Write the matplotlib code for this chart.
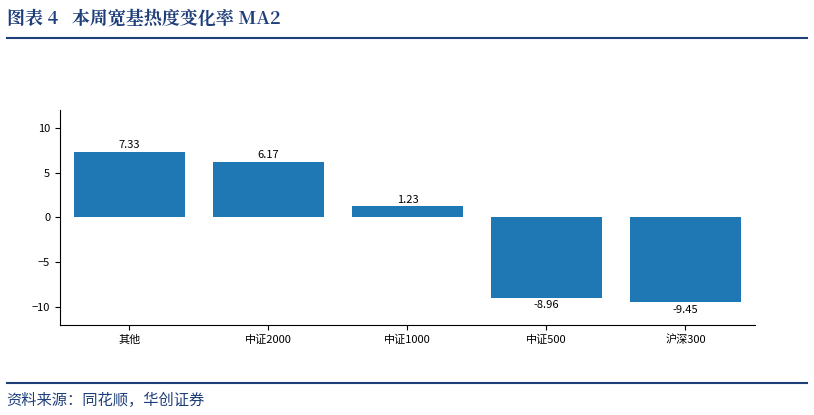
import matplotlib
matplotlib.use("Agg")
import matplotlib.pyplot as plt

plt.rcParams['font.family'] = ['Noto Sans CJK SC', 'DejaVu Sans']

categories = ["其他", "中证2000", "中证1000", "中证500", "沪深300"]
values = [7.33, 6.17, 1.23, -8.96, -9.45]
labels = ["7.33", "6.17", "1.23", "-8.96", "-9.45"]

fig = plt.figure(figsize=(8.14, 4.15), dpi=100)
navy = "#1f3f7a"
fig.text(0.008, 0.955, "图表 4   本周宽基热度变化率 MA2", fontsize=13, fontweight="bold",
         color=navy, va="center", family=['Noto Serif CJK SC', 'Noto Sans CJK SC', 'DejaVu Sans'])
fig.add_artist(plt.Line2D([0.008, 0.992], [0.908, 0.908], color=navy, lw=1.5))
fig.add_artist(plt.Line2D([0.008, 0.992], [0.077, 0.077], color=navy, lw=1.5))
fig.text(0.008, 0.035, "资料来源：同花顺，华创证券", fontsize=11, style="italic", color=navy, va="center")

ax = fig.add_axes([0.0737, 0.2169, 0.8538, 0.5181])
ax.bar(range(len(values)), values, width=0.8, color="#1f77b4")
for i, (v, t) in enumerate(zip(values, labels)):
    if v >= 0:
        ax.text(i, v + 0.2, t, ha="center", va="bottom", fontsize=8)
    else:
        ax.text(i, v - 0.3, t, ha="center", va="top", fontsize=8)
ax.set_xticks(range(len(values)))
ax.set_xticklabels(categories, fontsize=8)
ax.set_yticks([-10, -5, 0, 5, 10])
ax.tick_params(labelsize=8)
ax.set_ylim(-12, 12)
ax.set_xlim(-0.5, 4.5)
ax.spines['top'].set_visible(False)
ax.spines['right'].set_visible(False)
fig.savefig("out.png", dpi=100)
